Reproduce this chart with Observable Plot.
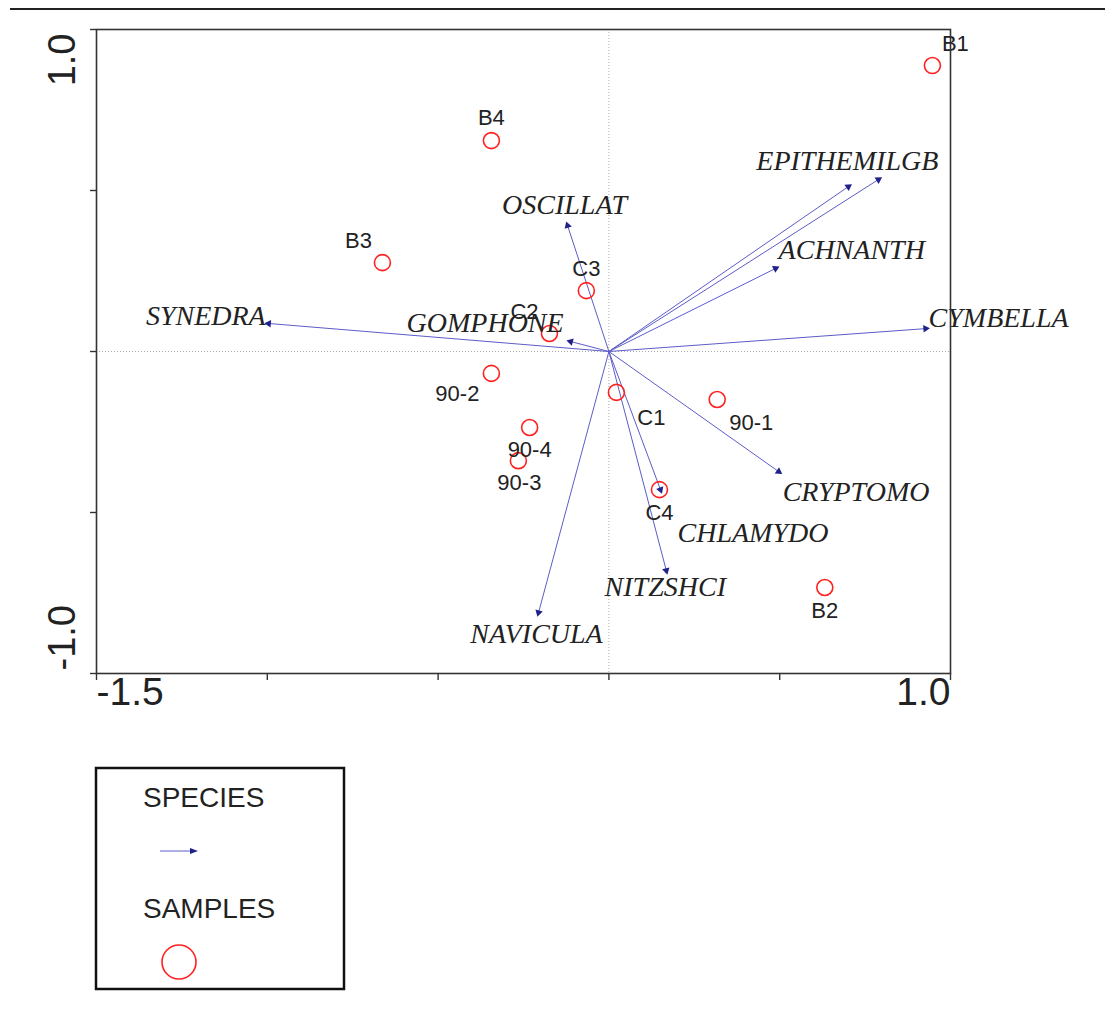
<!DOCTYPE html>
<html><head><meta charset="utf-8">
<script src="https://cdn.jsdelivr.net/npm/d3@7"></script>
<script src="https://cdn.jsdelivr.net/npm/@observablehq/plot@0.6"></script>
<style>
body{margin:0;background:#fff;width:1105px;height:1010px;position:relative;overflow:hidden;font-family:Arial,"Liberation Sans",sans-serif}
#rule{position:absolute;left:10px;right:0;top:8px;height:2px;background:#222}
#chart{position:absolute;left:0;top:0}
#legend{position:absolute;left:0;top:0}
</style></head><body>
<div id="rule"></div>
<div id="chart"></div>
<svg id="legend" width="400" height="1010" style="position:absolute;left:0;top:0;pointer-events:none"></svg>
<script>
// ---- data ----
const sampleNames = ["B1","B4","B3","C3","C2","90-2","C1","90-1","90-4","90-3","C4","B2"];
const sampleX = [0.947,-0.344,-0.663,-0.066,-0.174,-0.344,0.022,0.317,-0.232,-0.265,0.148,0.632];
const sampleY = [0.888,0.655,0.276,0.189,0.056,-0.068,-0.127,-0.149,-0.236,-0.339,-0.429,-0.733];
const speciesNames = ["SYNEDRA","OSCILLAT","GOMPHONE","EPITHEMI","LGB","ACHNANTH","CYMBELLA","CRYPTOMO","CHLAMYDO","NITZSHCI","NAVICULA"];
const speciesX = [-0.996,-0.121,-0.112,0.701,0.789,0.488,0.927,0.497,0.151,0.168,-0.206];
const speciesY = [0.087,0.391,0.031,0.512,0.534,0.258,0.071,-0.373,-0.429,-0.680,-0.811];
const xTicks = [-1.5,-1.0,-0.5,0,0.5,1.0];
const yTicks = [-1.0,-0.5,0,0.5,1.0];
const xTickLabels = [-1.5, 1.0];
const yTickLabels = [-1.0, 1.0];
const legendItems = ["SPECIES","SAMPLES"];

// ---- layout ----
const W = 1105, H = 740, mL = 96, mR = 155, mT = 29, mB = 67;
const xDomain = [-1.5, 1.0], yDomain = [-1.0, 1.0];
const sx = (W - mL - mR) / (xDomain[1] - xDomain[0]);
const sy = (H - mT - mB) / (yDomain[1] - yDomain[0]);

const samples = sampleNames.map((n, i) => ({name: n, x: sampleX[i], y: sampleY[i]}));
const species = speciesNames.map((n, i) => ({name: n, x: speciesX[i], y: speciesY[i],
  angle: Math.atan2(speciesX[i] * sx, speciesY[i] * sy) * 180 / Math.PI}));

// label placement (pixel offsets from the point)
const samplePlace = {
  "B1": ["middle", 23, -22], "B4": ["middle", 0, -23], "B3": ["middle", -24, -22],
  "C3": ["middle", 0, -22], "C2": ["middle", -25, -22], "90-2": ["middle", -34, 21],
  "C1": ["middle", 35, 26], "90-1": ["middle", 34, 23], "90-4": ["middle", 0, 22],
  "90-3": ["middle", 1, 22], "C4": ["middle", 0, 23], "B2": ["middle", 0, 23]
};
const speciesPlace = {
  "SYNEDRA": ["end", -3, -7], "OSCILLAT": ["middle", -3, -21], "GOMPHONE": ["end", -7, -18],
  "EPITHEMI": ["end", 37, -26], "LGB": ["start", 7, -19], "ACHNANTH": ["start", 3, -18],
  "CYMBELLA": ["start", 3, -11], "CRYPTOMO": ["start", 4, 20], "CHLAMYDO": ["start", 17, 43],
  "NITZSHCI": ["middle", -1, 17], "NAVICULA": ["middle", -2, 21]
};

const sampleLabelMarks = samples.map(d => {
  const [a, dx, dy] = samplePlace[d.name];
  return Plot.text([d], {x: "x", y: "y", text: "name", textAnchor: a, dx, dy,
    fontSize: 22, fill: "#222", fontFamily: "Arial, 'Liberation Sans', sans-serif"});
});
const speciesLabelMarks = species.map(d => {
  const [a, dx, dy] = speciesPlace[d.name];
  return Plot.text([d], {x: "x", y: "y", text: "name", textAnchor: a, dx, dy,
    fontSize: 28, fontStyle: "italic", fill: "#222", fontFamily: "'Liberation Serif', 'Times New Roman', serif"});
});

const chart = Plot.plot({
  width: W, height: H,
  marginLeft: mL, marginRight: mR, marginTop: mT, marginBottom: mB,
  x: {domain: xDomain, axis: null},
  y: {domain: yDomain, axis: null},
  style: {background: "transparent", overflow: "visible", fontFamily: "Arial, 'Liberation Sans', sans-serif"},
  marks: [
    Plot.ruleX([0], {stroke: "#aaa", strokeWidth: 1, strokeDasharray: "1,2"}),
    Plot.ruleY([0], {stroke: "#aaa", strokeWidth: 1, strokeDasharray: "1,2"}),
    Plot.link(species, {x1: () => 0, y1: () => 0, x2: "x", y2: "y", stroke: "#5c5cc8", strokeWidth: 1}),
    Plot.dot(species, {x: "x", y: "y", symbol: "triangle", r: 2.8, rotate: "angle", fill: "#20208a", stroke: "none"}),
    Plot.dot(samples, {x: "x", y: "y", r: 8, stroke: "#ff2020", strokeWidth: 1.6, fill: "none"}),
    ...speciesLabelMarks,
    ...sampleLabelMarks,
    Plot.frame({stroke: "#333", strokeWidth: 1.6}),
    Plot.axisX(xTicks, {tickFormat: () => "", tickSize: 7, label: null, stroke: "#333", strokeWidth: 1.4}),
    Plot.axisY(yTicks, {tickFormat: () => "", tickSize: 6, label: null, stroke: "#333", strokeWidth: 1.4}),
    Plot.text([xTickLabels[0]], {x: d => d, frameAnchor: "bottom", dy: 31, text: d => d.toFixed(1), textAnchor: "start", fontSize: 39, fill: "#222"}),
    Plot.text([xTickLabels[1]], {x: d => d, frameAnchor: "bottom", dy: 31, text: d => d.toFixed(1), textAnchor: "end", fontSize: 39, fill: "#222"}),
    Plot.text([yTickLabels[1]], {y: d => d, frameAnchor: "left", dx: -34, dy: 4, rotate: -90, text: d => d.toFixed(1), textAnchor: "end", fontSize: 38, fill: "#222"}),
    Plot.text([yTickLabels[0]], {y: d => d, frameAnchor: "left", dx: -34, dy: -3, rotate: -90, text: d => d.toFixed(1), textAnchor: "start", fontSize: 38, fill: "#222"})
  ]
});
document.getElementById("chart").appendChild(chart);

// ---- legend ----
const lg = d3.select("#legend");
lg.append("rect").attr("x", 96).attr("y", 768).attr("width", 248).attr("height", 221)
  .attr("fill", "none").attr("stroke", "#111").attr("stroke-width", 2.5);
lg.append("text").attr("x", 143).attr("y", 797).attr("dominant-baseline", "central")
  .attr("font-size", 28).attr("fill", "#222").text(legendItems[0]);
lg.append("line").attr("x1", 160).attr("x2", 192).attr("y1", 851).attr("y2", 851)
  .attr("stroke", "#5c5cc8").attr("stroke-width", 1);
lg.append("path").attr("d", "M198,851 L190,848 L190,854 Z").attr("fill", "#20208a");
lg.append("text").attr("x", 143).attr("y", 908).attr("dominant-baseline", "central")
  .attr("font-size", 28).attr("fill", "#222").text(legendItems[1]);
lg.append("circle").attr("cx", 179).attr("cy", 962).attr("r", 17)
  .attr("fill", "none").attr("stroke", "#ff2020").attr("stroke-width", 1.6);
</script>
</body></html>
